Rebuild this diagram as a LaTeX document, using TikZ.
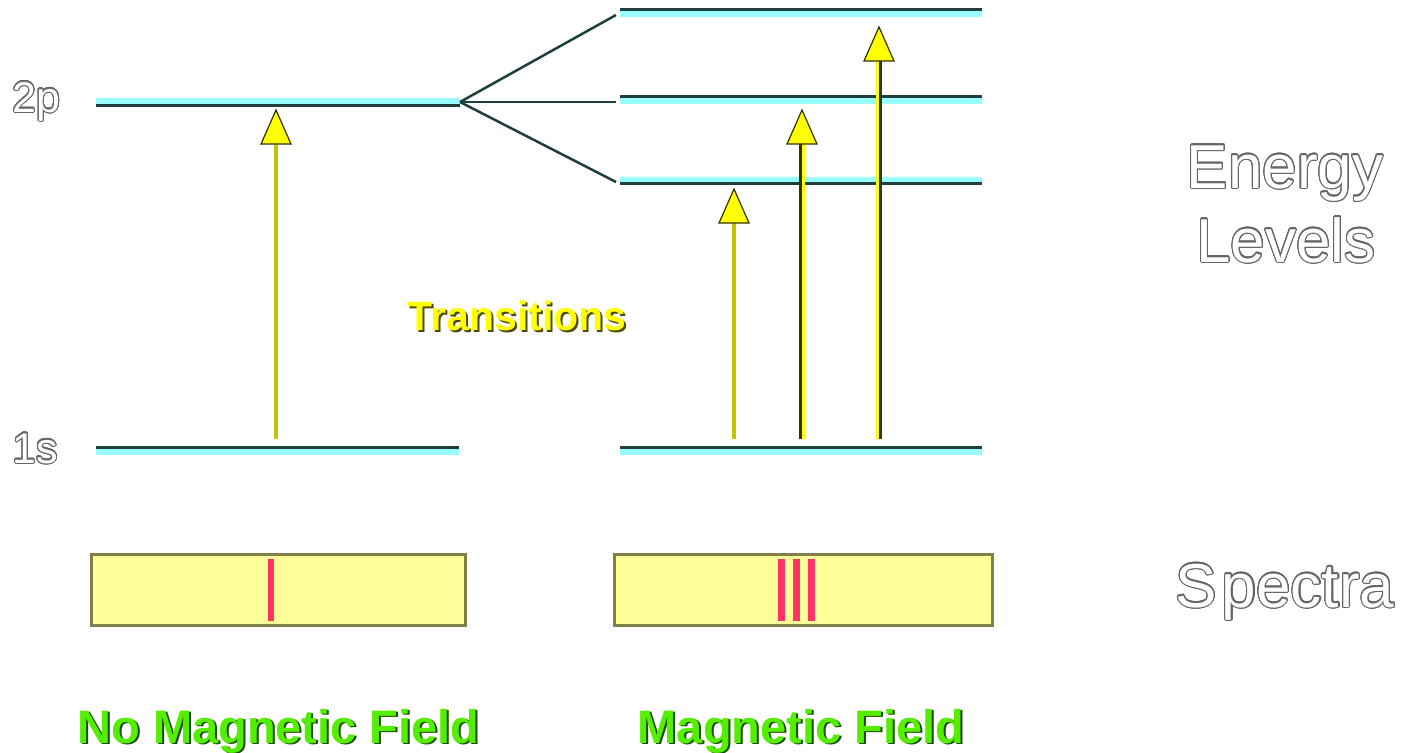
\documentclass[tikz,border=0pt]{standalone}
\usepackage{fontspec}
\setmainfont{Liberation Sans}
\usepackage{contour}
\usetikzlibrary{calc}
\definecolor{levcyan}{HTML}{99FFFF}
\definecolor{levdark}{HTML}{1F3F3F}
\definecolor{boxfill}{HTML}{FFFF99}
\definecolor{boxline}{HTML}{80804A}
\definecolor{specred}{HTML}{FF3366}
\definecolor{arrbright}{HTML}{FFFF00}
\definecolor{arrolive}{HTML}{C4C400}
\definecolor{arrdark}{HTML}{333300}
\definecolor{lblgreen}{HTML}{55EE00}
\definecolor{lblshadow}{HTML}{1A4A00}
\definecolor{transshadow}{HTML}{4A4A00}
\contourlength{1.1pt}
\contournumber{24}
\newcommand{\outlinetext}[1]{{\color{white}\contour{black!60}{#1}}}
\tikzset{
  cyanline/.style={levcyan, line width=6pt},
  darkline/.style={levdark, line width=3pt},
  splitline/.style={levdark, line width=2.5pt},
  shaftback/.style={arrdark, line width=6pt},
  shaftbright/.style={arrbright, line width=3pt},
  shaftolive/.style={arrolive, line width=4pt},
  headbright/.style={fill=arrbright, draw=arrdark, line width=1.2pt, line join=miter},
  specbox/.style={fill=boxfill, draw=boxline, line width=3pt, inner sep=0pt, anchor=north west},
  specline/.style={specred, line width=6.5pt},
  grayText/.style={inner sep=0pt, anchor=base, font=\fontsize{62}{62}\selectfont},
  levelText/.style={inner sep=0pt, anchor=base, font=\fontsize{43}{43}\selectfont},
  transText/.style={inner sep=0pt, anchor=base, font=\bfseries\fontsize{41}{41}\selectfont},
  fieldText/.style={inner sep=0pt, anchor=base, font=\bfseries\fontsize{47}{47}\selectfont},
}
\begin{document}
\begin{tikzpicture}[x=1pt,y=-1pt]
\useasboundingbox (0,0) rectangle (1404,752);
\fill[white] (0,0) rectangle (1404,752);

% ---------- level end points ----------
\coordinate (pL) at (96,101);   \coordinate (pR) at (460,101);
\coordinate (sL) at (96,452);   \coordinate (sR) at (459,452);
\coordinate (m1L) at (620,14);  \coordinate (m1R) at (982,14);
\coordinate (m2L) at (620,101); \coordinate (m2R) at (982,101);
\coordinate (m3L) at (620,180); \coordinate (m3R) at (982,180);
\coordinate (rsL) at (620,452); \coordinate (rsR) at (982,452);

% ---------- levels ----------
\draw[cyanline] (pL) -- (pR);
\draw[darkline] ($(pL)+(0,4.5)$) -- ($(pR)+(0,4.5)$);
\draw[cyanline] (sL) -- (sR);
\draw[darkline] ($(sL)+(0,-4.5)$) -- ($(sR)+(0,-4.5)$);
\draw[cyanline] (m1L) -- (m1R);
\draw[darkline] ($(m1L)+(0,-4.5)$) -- ($(m1R)+(0,-4.5)$);
\draw[cyanline] (m2L) -- (m2R);
\draw[darkline] ($(m2L)+(0,-4.5)$) -- ($(m2R)+(0,-4.5)$);
\draw[cyanline] (m3L) -- (m3R);
\draw[darkline] ($(m3L)+(0,3.5)$) -- ($(m3R)+(0,3.5)$);
\draw[cyanline] (rsL) -- (rsR);
\draw[darkline] ($(rsL)+(0,-4.5)$) -- ($(rsR)+(0,-4.5)$);

% ---------- splitting connectors ----------
\coordinate (sp) at (460,102);
\coordinate (e1) at (616,15);
\coordinate (e2) at (616,102);
\coordinate (e3) at (616,182);
\draw[splitline] (sp) -- (e1);
\draw[splitline] (sp) -- (e2);
\draw[splitline] (sp) -- (e3);

% ---------- transition arrows ----------
\coordinate (a0b) at (276,439); \coordinate (a0t) at (276,110);
\coordinate (a1b) at (734,439); \coordinate (a1t) at (734,189);
\coordinate (a2b) at (802,439); \coordinate (a2t) at (802,110);
\coordinate (a3b) at (879,439); \coordinate (a3t) at (879,27);

\draw[shaftolive] (a0b) -- ($(a0t)+(0,30)$);
\draw[shaftolive] (a1b) -- ($(a1t)+(0,30)$);
\draw[shaftback] (a2b) -- ($(a2t)+(0,30)$);
\draw[shaftbright] ($(a2b)+(1.5,0)$) -- ($(a2t)+(1.5,30)$);
\draw[shaftback] (a3b) -- ($(a3t)+(0,30)$);
\draw[shaftbright] ($(a3b)+(-1.5,0)$) -- ($(a3t)+(-1.5,30)$);

\foreach \t in {a0t,a1t,a2t,a3t}{
  \filldraw[headbright] (\t) -- ++(-15,34) -- ++(30,0) -- cycle;
}

% ---------- spectra ----------
\node[specbox, minimum width=374pt, minimum height=71pt] (boxA) at (90,553) {};
\node[specbox, minimum width=378pt, minimum height=71pt] (boxB) at (613,553) {};
\draw[specline] (271,559) -- (271,621);
\draw[specline] (781.5,559) -- (781.5,621);
\draw[specline] (796.5,559) -- (796.5,621);
\draw[specline] (811.5,559) -- (811.5,621);

% ---------- labels ----------
\node[levelText] (t2p) at (36.5,112) {\outlinetext{2p}};
\node[levelText] (t1s) at (35,463) {\outlinetext{1s}};
\node[grayText] (tEn) at (1285,188) {\outlinetext{Energy}};
\node[grayText] (tLe) at (1286,262) {\outlinetext{Levels}};
\node[grayText] (tSp) at (1285,607) {\outlinetext{S\kern5pt pectra}};

\node[transText, text=transshadow] at (519,332) {Transitions};
\node[transText, text=arrbright] (tTr) at (517,330) {Transitions};

\node[fieldText, text=lblshadow] at (280.5,744.5) {No Magnetic Field};
\node[fieldText, text=lblgreen] (tNo) at (278.5,743) {No Magnetic Field};
\node[fieldText, text=lblshadow] at (803,744.5) {Magnetic Field};
\node[fieldText, text=lblgreen] (tMa) at (801,743) {Magnetic Field};
\end{tikzpicture}
\end{document}
